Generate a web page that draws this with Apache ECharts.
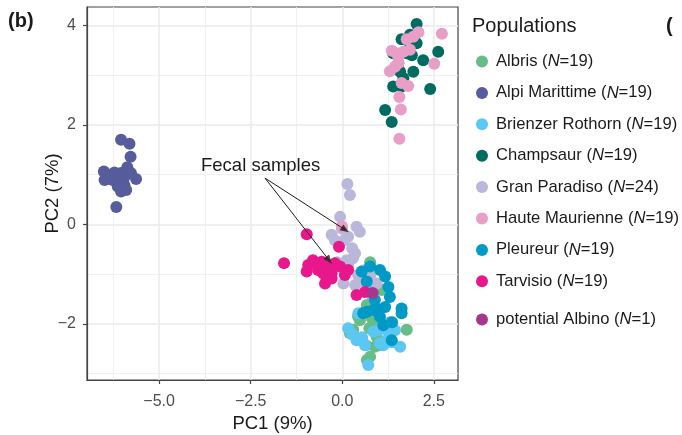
<!DOCTYPE html>
<html>
<head>
<meta charset="utf-8">
<script src="https://cdn.jsdelivr.net/npm/echarts@6/dist/echarts.min.js"></script>
<style>html,body{margin:0;padding:0;background:#fff}#c{width:682px;height:435px}</style>
</head>
<body>
<div id="c"></div>
<script>
// ---- data ----
const populations = ['Albris','Alpi Marittime','Brienzer Rothorn','Champsaur','Gran Paradiso','Haute Maurienne','Pleureur','Tarvisio','potential Albino'];
const counts = [19,19,19,19,24,19,19,19,1];
const colors = ['#66bd87','#575c9c','#5bc7f2','#006b60','#b9b7da','#e89ec6','#0199c6','#e8188c','#a5378f'];

const albris = [[0.76,-0.76],[1.08,-1.32],[0.67,-1.62],[0.53,-1.79],[0.30,-2.12],[0.74,-2.09],[1.76,-2.12],[0.76,-2.66],[0.67,-2.73],[0.89,-2.46],[0.21,-2.19],[0.48,-1.93],[0.94,-2.26],[0.54,-2.33],[0.81,-1.89],[0.43,-1.85],[1.03,-2.43],[0.65,-2.43],[0.89,-2.03]];
const alpiMarittime = [[-6.04,1.70],[-5.81,1.62],[-5.78,1.36],[-5.87,1.15],[-6.51,1.06],[-6.22,1.04],[-6.04,1.03],[-5.63,0.91],[-6.49,0.89],[-6.27,0.89],[-6.08,0.86],[-5.95,0.79],[-6.04,0.66],[-5.90,0.69],[-6.17,0.35],[-6.36,0.99],[-5.96,0.93],[-6.13,0.76],[-5.77,1.03]];
const brienzerRothorn = [[0.16,-2.09],[0.39,-2.33],[0.85,-2.16],[1.12,-2.43],[1.26,-2.16],[1.58,-2.46],[0.71,-2.83],[1.21,-2.33],[0.80,-1.42],[0.44,-1.79],[0.85,-1.19],[1.03,-2.39],[0.54,-2.27],[1.44,-2.13],[0.98,-2.13],[1.30,-1.97],[1.36,-2.37],[0.27,-2.21],[0.62,-2.43]];
const champsaur = [[2.03,4.03],[1.62,3.72],[2.03,3.64],[1.85,3.81],[2.62,3.47],[2.21,3.30],[1.90,3.40],[1.39,3.44],[1.94,3.07],[1.58,3.07],[1.39,2.77],[2.40,2.72],[1.17,2.30],[1.35,2.06],[1.67,2.94],[1.76,3.44],[1.53,3.24],[1.62,2.77],[1.85,3.64]];
const granParadiso = [[0.14,0.81],[0.21,0.59],[-0.06,0.15],[0.39,-0.05],[-0.29,-0.21],[0.16,-0.25],[0.48,-0.15],[0.35,-0.58],[0.12,-0.72],[-0.06,-0.82],[0.16,-0.82],[0.03,-1.19],[0.35,-1.22],[0.57,-1.15],[0.94,-1.19],[0.27,-0.48],[0.05,-0.32],[-0.14,-0.76],[0.62,-0.92],[0.43,-1.02],[0.29,-0.68],[0.76,-1.04],[-0.20,-0.32],[-0.01,-0.09]];
const hauteMaurienne = [[2.72,3.83],[2.08,3.86],[1.94,3.77],[1.76,3.72],[1.35,3.49],[1.67,3.47],[1.53,3.37],[2.51,3.23],[1.53,3.24],[1.30,3.08],[1.62,2.84],[1.80,2.78],[1.56,2.56],[1.60,2.31],[1.56,1.72],[1.49,3.44],[1.85,3.51],[1.44,3.17],[-0.01,-0.04]];
const pleureur = [[0.53,-0.95],[0.76,-0.85],[1.03,-0.92],[1.17,-1.05],[0.67,-1.15],[1.26,-1.26],[1.30,-1.46],[0.94,-1.69],[1.17,-1.66],[0.67,-1.76],[0.57,-1.79],[1.03,-1.86],[1.12,-2.03],[1.62,-1.69],[1.62,-1.79],[1.35,-2.33],[0.89,-1.52],[0.85,-1.72],[1.36,-1.97]];
const tarvisio = [[-0.97,-0.20],[-0.09,-0.45],[-1.59,-0.78],[-0.93,-0.82],[-0.97,-0.95],[-0.56,-0.75],[-0.52,-0.99],[-0.38,-0.85],[-0.29,-0.99],[-0.47,-1.19],[-0.20,-0.78],[0.16,-0.92],[-0.06,-0.85],[0.39,-1.42],[0.62,-1.36],[-0.29,-1.09],[-0.66,-0.92],[-0.80,-0.72],[0.07,-1.02]];
const potentialAlbino = [[0.83,-1.38]];
const seriesData = [albris, alpiMarittime, brienzerRothorn, champsaur, granParadiso, hauteMaurienne, pleureur, tarvisio, potentialAlbino];

const xTicks = [-5, -2.5, 0, 2.5];
const xMinorTicks = [-6.25, -3.75, -1.25, 1.25];
const yTicks = [-2, 0, 2, 4];
const yMinorTicks = [-3, -1, 1, 3];

// annotation: "Fecal samples" arrows (start, ends)
const fecalStart = [-2.11, 0.93];
const fecalEnds = [[0.08, -0.11], [-0.36, -0.72]];

// ---- chart ----
const FONT = '"Liberation Sans", Arial, Helvetica, sans-serif';
const X_MIN = -6.97, X_MAX = 3.16, Y_MIN = -3.13, Y_MAX = 4.37;
const GRID = {left: 87, right: 224, top: 7, bottom: 55};
const W = 682, H = 435;
const pxPerX = (W - GRID.left - GRID.right) / (X_MAX - X_MIN);
const pxPerY = (H - GRID.top - GRID.bottom) / (Y_MAX - Y_MIN);
// rotation of arrowheads so that they point along each annotation line
const arrowRot = fecalEnds.map(e => {
  const dx = (e[0] - fecalStart[0]) * pxPerX;
  const dyUp = (e[1] - fecalStart[1]) * pxPerY;
  return Math.atan2(dyUp, dx) * 180 / Math.PI - 90;
});

const chart = echarts.init(document.getElementById('c'), null, {renderer: 'canvas'});
const fmt = v => (v < 0 ? '\u2212' : '') + Math.abs(v);
const fmt1 = v => (v < 0 ? '\u2212' : '') + Math.abs(v).toFixed(1);

const series = populations.map((p, i) => ({
  name: p, type: 'scatter', xAxisIndex: 0, yAxisIndex: 0,
  data: seriesData[i], symbol: 'circle', symbolSize: 12,
  itemStyle: {color: colors[i], opacity: 1},
  emphasis: {disabled: true}, z: 3
}));
series.push({
  type: 'line', data: [], xAxisIndex: 0, yAxisIndex: 0, showSymbol: false,
  markLine: {
    silent: true, animation: false,
    symbol: ['none', 'none'],
    lineStyle: {color: '#1a1a1a', width: 1, type: 'solid'},
    label: {show: false},
    data: fecalEnds.map(e => [{coord: fecalStart}, {coord: e}])
  },
  z: 10
});
series.push({
  type: 'scatter', xAxisIndex: 0, yAxisIndex: 0, silent: true,
  data: fecalEnds.map((e, i) => ({value: e, symbolRotate: arrowRot[i]})),
  symbol: 'triangle', symbolSize: [7, 9],
  itemStyle: {color: '#1a1a1a'}, z: 11
});

const legendText = {fontSize: 16.6, color: '#1a1a1a', fontFamily: FONT, lineHeight: 17, padding: [0,0,0,3],
  rich: {i: {fontStyle: 'italic', fontSize: 16.6, color: '#1a1a1a', fontFamily: FONT, lineHeight: 17}}};
const legendFmt = name => name + ' ({i|N}=' + counts[populations.indexOf(name)] + ')';

chart.setOption({
  animation: false,
  backgroundColor: '#fff',
  grid: Object.assign({show: true, borderColor: '#444', borderWidth: 1.2, backgroundColor: '#fff', outerBoundsMode: 'none', containLabel: false}, GRID),
  xAxis: [{
    type: 'value', min: X_MIN, max: X_MAX, position: 'bottom',
    axisLine: {show: true, onZero: false, lineStyle: {color: '#444', width: 1.2}},
    axisTick: {show: true, length: 4, lineStyle: {color: '#444', width: 1.2}, customValues: xTicks},
    axisLabel: {show: true, customValues: xTicks, formatter: fmt1, fontSize: 16, color: '#4d4d4d', fontFamily: FONT, margin: 14},
    splitLine: {show: true, lineStyle: {color: '#ebebeb', width: 1.5}},
    name: 'PC1 (9%)', nameLocation: 'middle', nameGap: 34, nameMoveOverlap: false,
    nameTextStyle: {fontSize: 18.5, color: '#1a1a1a', fontFamily: FONT}
  }, {
    type: 'value', min: X_MIN, max: X_MAX, position: 'top',
    axisLine: {show: false, onZero: false}, axisTick: {show: false, customValues: xMinorTicks},
    axisLabel: {show: false, customValues: xMinorTicks},
    splitLine: {show: true, lineStyle: {color: '#ededed', width: 0.8}}
  }],
  yAxis: [{
    type: 'value', min: Y_MIN, max: Y_MAX, position: 'left',
    axisLine: {show: true, onZero: false, lineStyle: {color: '#444', width: 1.2}},
    axisTick: {show: true, length: 4, lineStyle: {color: '#444', width: 1.2}, customValues: yTicks},
    axisLabel: {show: true, customValues: yTicks, formatter: fmt, fontSize: 16, color: '#4d4d4d', fontFamily: FONT, margin: 11},
    splitLine: {show: true, lineStyle: {color: '#ebebeb', width: 1.5}},
    name: 'PC2 (7%)', nameLocation: 'middle', nameGap: 25, nameRotate: 90, nameMoveOverlap: false,
    nameTextStyle: {fontSize: 18.5, color: '#1a1a1a', fontFamily: FONT}
  }, {
    type: 'value', min: Y_MIN, max: Y_MAX, position: 'right',
    axisLine: {show: false, onZero: false}, axisTick: {show: false, customValues: yMinorTicks},
    axisLabel: {show: false, customValues: yMinorTicks},
    splitLine: {show: true, lineStyle: {color: '#ededed', width: 0.8}}
  }],
  legend: [{
    orient: 'vertical', left: 471, top: 48, itemWidth: 12, itemHeight: 12, itemGap: 14.4,
    icon: 'circle', data: populations.slice(0, 8), formatter: legendFmt, textStyle: legendText,
    selectedMode: false
  }, {
    orient: 'vertical', left: 471, top: 306, itemWidth: 12, itemHeight: 12,
    icon: 'circle', data: populations.slice(8), formatter: legendFmt, textStyle: legendText,
    selectedMode: false
  }],
  graphic: [
    {type: 'text', left: 472, top: 16, style: {text: 'Populations', fontSize: 20, fill: '#1a1a1a', fontFamily: FONT}},
    {type: 'text', left: 8, top: 11, style: {text: '(b)', fontSize: 20, fontWeight: 'bold', fill: '#1a1a1a', fontFamily: FONT}},
    {type: 'text', left: 666, top: 16, style: {text: '(', fontSize: 20, fontWeight: 'bold', fill: '#1a1a1a', fontFamily: FONT}},
    {type: 'text', left: 201, top: 156, z: 10, style: {text: 'Fecal samples', fontSize: 18.5, fill: '#1a1a1a', fontFamily: FONT}}
  ],
  series: series
});
</script>
</body>
</html>
